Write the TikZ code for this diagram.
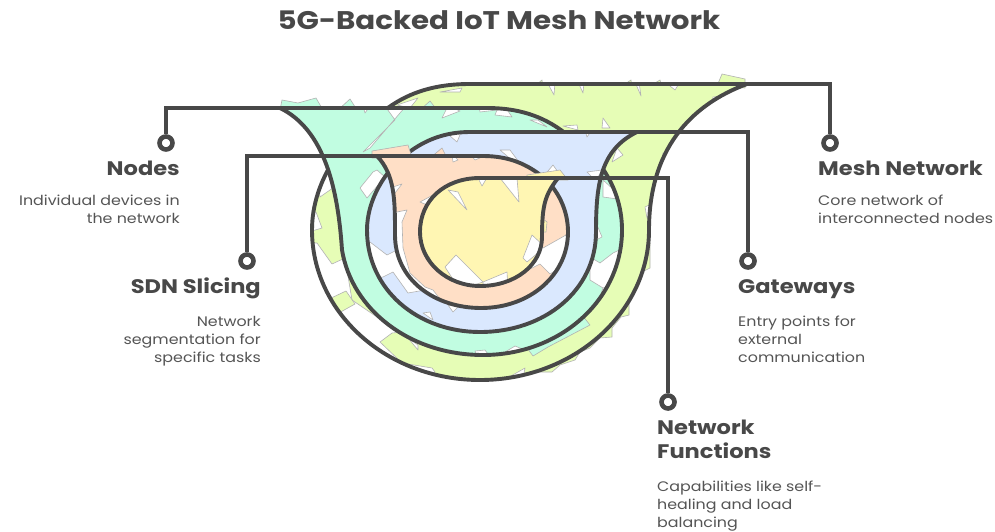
\documentclass[tikz,border=0pt]{standalone}
\usepackage{fontspec}
\setmainfont{Poppins}[FakeStretch=1.15]
\definecolor{ink}{HTML}{484848}
\definecolor{soft}{HTML}{555555}
\definecolor{cLime}{HTML}{E6FDB6}
\definecolor{cTeal}{HTML}{C1FDE1}
\definecolor{cBlue}{HTML}{DAE8FE}
\definecolor{cOrange}{HTML}{FFDFC6}
\definecolor{cYellow}{HTML}{FFF6B3}
\tikzset{
  outline/.style={draw=ink,line width=3.9pt,line join=round,line cap=round},
  leader/.style={draw=ink,line width=3.6pt,line join=miter},
  edgeline/.style={draw=black!30,line width=.6pt,line join=round},
  notch/.style={edgeline,fill=white},
  dotmark/.style={circle,draw=ink,line width=4.6pt,fill=white,minimum size=13pt,inner sep=0pt},
  heading/.style={font=\fontsize{19.6}{24}\selectfont\bfseries,text=ink,inner sep=0pt},
  descr/.style={font=\fontsize{13.8}{17.8}\selectfont,text=soft,inner sep=0pt},
}
\def\limepath{(747,84) -- (470,84) .. controls (430,84) and (405,95) .. (385,110) .. controls (345,135) and (312,180) .. (312,230) .. controls (312,313) and (387,380) .. (480,380) .. controls (573,380) and (649,313) .. (649,230) .. controls (649,150) and (690,105) .. (747,84) -- cycle}
\def\tealpath{(280,108) -- (487,108) .. controls (525,108) and (548,120) .. (565,133) .. controls (600,155) and (622,190) .. (622,230) .. controls (622,300) and (560,355) .. (483,355) .. controls (410,355) and (352,310) .. (342,250) .. controls (338,190) and (325,130) .. (280,108) -- cycle}
\def\bluepath{(637,132) -- (470,132) .. controls (445,132) and (425,140) .. (408,153) .. controls (385,170) and (367,200) .. (367,230) .. controls (367,290) and (418,332) .. (480,332) .. controls (545,332) and (596,290) .. (596,232) .. controls (596,185) and (600,150) .. (637,132) -- cycle}
\def\orangepath{(377,156) -- (483,156) .. controls (510,156) and (528,165) .. (543,177) .. controls (558,190) and (568,210) .. (568,232) .. controls (568,275) and (530,308) .. (481,308) .. controls (435,308) and (395,280) .. (395,235) .. controls (395,200) and (395,175) .. (377,156) -- cycle}
\def\yellowpath{(558,178) -- (480,178) .. controls (445,178) and (420,200) .. (420,232) .. controls (420,262) and (447,286) .. (480,286) .. controls (515,286) and (542,265) .. (542,237) .. controls (542,205) and (545,195) .. (558,178) -- cycle}
\begin{document}
\begin{tikzpicture}[x=1pt,y=-1pt]
\useasboundingbox (0,0) rectangle (995,532);
\fill[white] (0,0) rectangle (995,532);
% ---- lime
\foreach \p in {
  {(717,86)--(722,74)--(745,79)--(745,88)},
  {(622,86)--(631,80)--(632,88)},
  {(650,86)--(660,80)--(662,88)},
  {(535,86)--(542,80)--(543,88)},
  {(640,240)--(650,243)--(650,268)--(642,272)--(629,297)--(629,315)--(621,317)--(612,328)--(612,337)--(600,338)--(590,348)--(580,352)--(575,360)--(560,365)--(552,372)--(535,372)--(530,350)--(600,300)}}
  {\filldraw[edgeline,fill=cLime] \p --cycle;}
\fill[white] \limepath;
\fill[cLime] \limepath;
\begin{scope}
\clip \limepath;
\draw[notch] (300,243)--(317,243)--(332,264)--(345,258)--(352,300)--(418,345)--(418,350)--(403,332)--(392,333)--(380,342)--(402,363)--(432,368)--(435,372)--(420,395)--(300,395)--cycle;
\filldraw[edgeline,fill=cLime] (327,300)--(346,291)--(355,304)--(337,314)--cycle;
\draw[notch] (315,165)--(340,165)--(340,183)--(320,197)--cycle;
\draw[notch] (312,212)--(316,212)--(322,228)--(312,231)--cycle;
\draw[notch] (341,212)--(348,209)--(346,236)--cycle;
\draw[notch] (547,82)--(554,95)--(555,82)--cycle;
\draw[notch] (578,82)--(583,93)--(584,82)--cycle;
\draw[notch] (635,82)--(641,96)--(639,82)--cycle;
\draw[notch] (665,82)--(675,90)--(680,82)--cycle;
\draw[notch] (713,97)--(722,96)--(712,103)--cycle;
\draw[notch] (692,115)--(699,115)--(690,120)--cycle;
\draw[notch] (663,153)--(670,153)--(663,163)--cycle;
\draw[notch] (655,190)--(655,202)--(645,207)--(647,218)--(655,218)--cycle;
\draw[notch] (603,118)--(610,128)--(602,128)--cycle;
\draw[notch] (563,126)--(577,125)--(578,130)--cycle;
\draw[notch] (617,148)--(623,155)--(612,162)--cycle;
\draw[notch] (495,385)--(525,368)--(522,385)--cycle;
\draw[notch] (397,105)--(418,98)--(410,108)--cycle;
\draw[notch] (440,92)--(462,88)--(460,92)--cycle;
\end{scope}
\draw[outline] \limepath;
% ---- teal
\foreach \p in {
  {(280,110)--(282,100)--(298,103)--(316,98)--(323,110)},
  {(338,110)--(350,99)--(357,110)},
  {(420,110)--(430,101)--(437,110)},
  {(525,345)--(533,356)--(548,347)--(590,325)--(582,315)}}
  {\filldraw[edgeline,fill=cTeal] \p --cycle;}
\fill[white] \tealpath;
\fill[cTeal] \tealpath;
\begin{scope}
\clip \tealpath;
\draw[notch] (385,106)--(395,120)--(363,152)--(370,148)--(406,106)--cycle;
\draw[notch] (363,106)--(370,106)--(365,113)--cycle;
\draw[notch] (442,118)--(460,111)--(448,106)--cycle;
\draw[notch] (457,105)--(502,102)--(512,117)--(495,115)--(497,110)--(480,112)--(479,106)--cycle;
\draw[notch] (360,188)--(373,172)--(377,170)--(385,177)--(367,198)--cycle;
\draw[notch] (603,180)--(625,200)--(603,197)--cycle;
\draw[notch] (585,228)--(597,225)--(602,237)--(596,240)--cycle;
\draw[notch] (590,257)--(600,263)--(613,253)--(630,245)--(630,287)--(603,288)--(590,280)--cycle;
\draw[notch] (630,287)--(603,288)--(590,325)--(630,330)--cycle;
\draw[notch] (475,351)--(485,350)--(490,357)--(478,360)--cycle;
\draw[notch] (505,352)--(515,346)--(525,350)--(510,356)--cycle;
\draw[notch] (530,120)--(538,120)--(547,127)--cycle;
\end{scope}
\draw[outline] \tealpath;
% ---- blue
\fill[white] \bluepath;
\fill[cBlue] \bluepath;
\begin{scope}
\clip \bluepath;
\draw[notch] (355,240)--(370,242)--(387,255)--(403,247)--(425,290)--(408,293)--(393,272)--(383,277)--(360,280)--cycle;
\draw[notch] (423,313)--(430,312)--(433,320)--cycle;
\draw[notch] (448,305)--(453,312)--(458,307)--cycle;
\draw[notch] (443,130)--(462,130)--(457,142)--cycle;
\draw[notch] (553,165)--(558,172)--(543,177)--cycle;
\draw[notch] (587,172)--(602,170)--(598,177)--(592,177)--cycle;
\draw[notch] (585,130)--(592,130)--(587,137)--cycle;
\draw[notch] (510,150)--(527,173)--(500,150)--cycle;
\end{scope}
\draw[outline] \bluepath;
% ---- orange
\foreach \p in {
  {(372,158)--(372,151)--(408,145)--(412,158)},
  {(430,158)--(442,148)--(447,158)}}
  {\filldraw[edgeline,fill=cOrange] \p --cycle;}
\fill[white] \orangepath;
\fill[cOrange] \orangepath;
\begin{scope}
\clip \orangepath;
\draw[notch] (393,187)--(402,184)--(395,193)--cycle;
\draw[notch] (385,210)--(397,212)--(407,210)--(402,222)--(403,248)--(410,273)--(425,287)--(433,290)--(450,312)--(420,320)--(385,300)--cycle;
\draw[notch] (420,202)--(433,195)--(427,205)--cycle;
\draw[notch] (452,154)--(458,160)--(453,162)--cycle;
\draw[notch] (468,152)--(480,149)--(482,157)--(475,160)--cycle;
\draw[notch] (508,155)--(513,152)--(518,158)--cycle;
\draw[notch] (532,235)--(537,242)--(543,248)--(566,235)--(573,260)--(550,274)--(540,264)--(520,274)--(523,257)--cycle;
\end{scope}
\draw[outline] \orangepath;
% ---- yellow
\foreach \p in {
  {(527,180)--(527,175)--(560,170)--(568,180)},
  {(538,215)--(547,222)--(546,232)--(538,232)}}
  {\filldraw[edgeline,fill=cYellow] \p --cycle;}
\fill[white] \yellowpath;
\fill[cYellow] \yellowpath;
\begin{scope}
\clip \yellowpath;
\draw[notch] (448,190)--(467,210)--(458,192)--cycle;
\draw[notch] (500,178)--(519,202)--(517,178)--cycle;
\draw[notch] (477,176)--(488,176)--(482,186)--cycle;
\draw[notch] (445,267)--(456,255)--(483,282)--(460,290)--cycle;
\draw[notch] (483,282)--(507,272)--(508,290)--(483,290)--cycle;
\draw[notch] (532,235)--(523,258)--(527,262)--(545,247)--cycle;
\draw[notch] (418,233)--(423,250)--(430,258)--(415,258)--cycle;
\end{scope}
\draw[outline] \yellowpath;
% ---- connectors
\coordinate (tipMesh) at (747,84);
\coordinate (tipNodes) at (280,108);
\coordinate (tipGate) at (637,132);
\coordinate (tipSdn) at (377,156);
\coordinate (tipFunc) at (558,178);
\node[dotmark] (dotMesh) at (830,143) {};
\node[dotmark] (dotNodes) at (166,143) {};
\node[dotmark] (dotGate) at (748,261) {};
\node[dotmark] (dotSdn) at (247,261) {};
\node[dotmark] (dotFunc) at (668,402) {};
\draw[leader] (tipMesh) -| (dotMesh);
\draw[leader] (tipNodes) -| (dotNodes);
\draw[leader] (tipGate) -| (dotGate);
\draw[leader] (tipSdn) -| (dotSdn);
\draw[leader] (tipFunc) -| (dotFunc);
% ---- text
\node[anchor=base,font=\fontsize{25.5}{28}\selectfont\bfseries,text=ink,inner sep=0pt] (title) at (499,30) {5G-Backed IoT Mesh Network};
\node[heading,anchor=base east] (hNodes) at (180,175) {Nodes};
\node[descr,anchor=north east,align=right] (dNodes) at (180,195) {Individual devices in\\the network};
\node[heading,anchor=base east] (hSdn) at (261,293) {SDN Slicing};
\node[descr,anchor=north east,align=right] (dSdn) at (261,316) {Network\\segmentation for\\specific tasks};
\node[heading,anchor=base west] (hMesh) at (818,175) {Mesh Network};
\node[descr,anchor=north west,align=left] (dMesh) at (818,195) {Core network of\\interconnected nodes};
\node[heading,anchor=base west] (hGate) at (738,293) {Gateways};
\node[descr,anchor=north west,align=left] (dGate) at (738,316) {Entry points for\\external\\communication};
\node[heading,anchor=north west,align=left] (hFunc) at (657,420) {Network\\Functions};
\node[descr,anchor=north west,align=left] (dFunc) at (657,481) {Capabilities like self-\\healing and load\\balancing};
\end{tikzpicture}
\end{document}
